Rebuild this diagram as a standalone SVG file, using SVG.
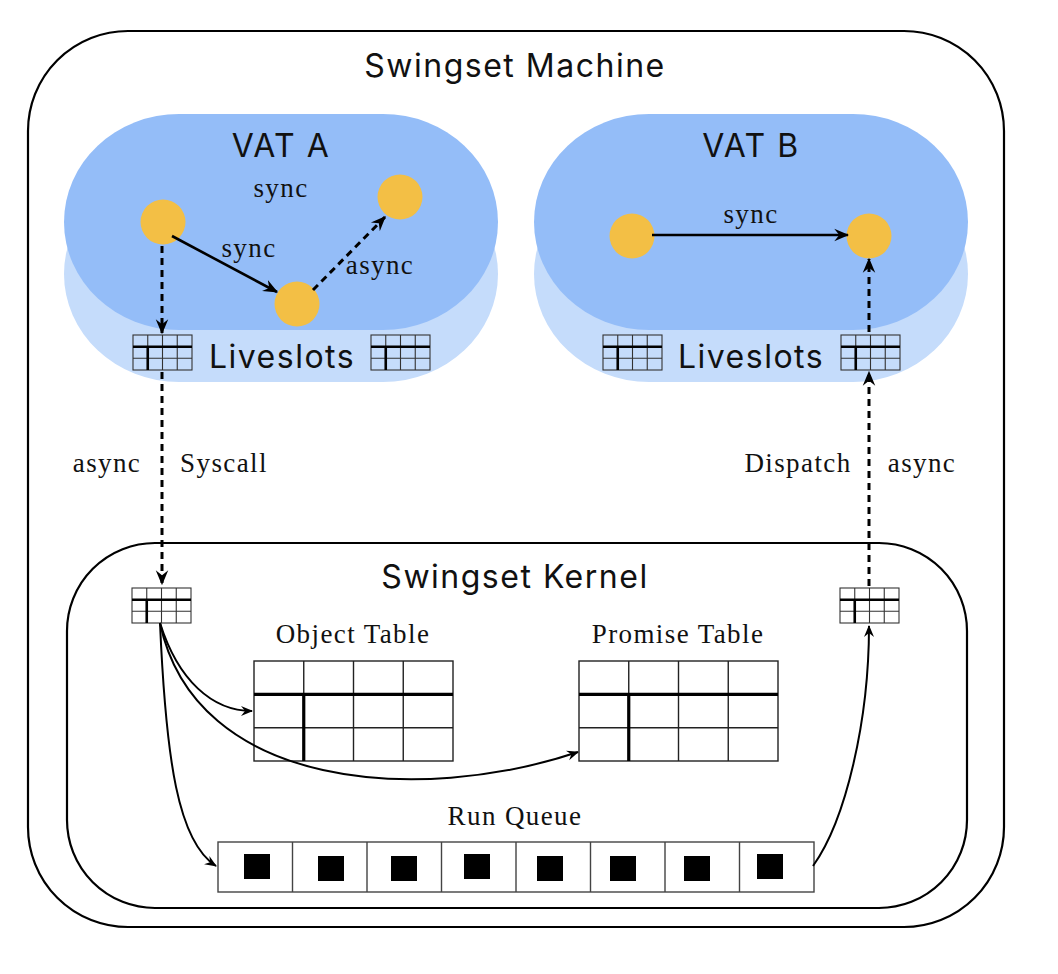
<svg xmlns="http://www.w3.org/2000/svg" width="1058" height="974" viewBox="0 0 1058 974">
<defs>
<style>
.sans{font-family:Inter,"Noto Sans","DejaVu Sans",sans-serif;font-size:32px;fill:#111;text-anchor:middle;letter-spacing:1.5px}
.serif{font-family:"Liberation Serif","Times New Roman",serif;font-size:27px;fill:#111;text-anchor:middle;letter-spacing:1.4px}
.frame{fill:none;stroke:#000;stroke-width:2.2}
.dark{fill:#94bdf8}
.light{fill:#c5dcfb}
.dot{fill:#f3bf45}
.thin{stroke:#333;stroke-width:1.1;fill:none}
.thick{stroke:#000;stroke-width:2.6;fill:none}
.bthin{stroke:#222;stroke-width:1.4;fill:none}
.bthick{stroke:#000;stroke-width:3.2;fill:none}
.solid{stroke:#000;stroke-width:2.6;fill:none}
.dash{stroke:#000;stroke-width:3;fill:none;stroke-dasharray:7 5}
.curve{stroke:#000;stroke-width:2;fill:none}
.sq{fill:#000}
.cell{fill:#fff;stroke:#444;stroke-width:1.4}
</style>
<marker id="ah" viewBox="0 0 12 12" refX="11" refY="6" markerWidth="15" markerHeight="15" orient="auto" markerUnits="userSpaceOnUse"><path d="M0,1 L12,6 L0,11 L4,6 z" fill="#000"/></marker>
<marker id="ahs" viewBox="0 0 12 12" refX="11" refY="6" markerWidth="12" markerHeight="12" orient="auto" markerUnits="userSpaceOnUse"><path d="M0,1 L12,6 L0,11 L4,6 z" fill="#000"/></marker>
<g id="mini">
<rect x="0" y="0" width="59" height="35" fill="none" class="thin"/>
<path class="thin" d="M14.75,0V35M29.5,0V35M44.25,0V35M0,23.3H59"/>
<path class="thick" d="M0,11.7H59M14.75,11.7V35"/>
</g>
<g id="big">
<rect x="0" y="0" width="199" height="100" fill="#fff" class="bthin"/>
<path class="bthin" d="M49.75,0V100M99.5,0V100M149.25,0V100M0,66.7H199"/>
<path class="bthick" d="M0,33.3H199M49.75,33.3V100"/>
</g>
</defs>

<g id="machine">
<rect x="28" y="31" width="976" height="896" rx="100" ry="100" class="frame"/>
<text x="515" y="77" class="sans">Swingset Machine</text>
</g>

<g id="vatA">
<rect x="64" y="166" width="434" height="216" rx="115" ry="108" class="light"/>
<rect x="64" y="114" width="434" height="216" rx="115" ry="108" class="dark"/>
<text x="281" y="157" class="sans">VAT A</text>
<circle cx="163" cy="222" r="22.5" class="dot"/>
<circle cx="297" cy="304" r="22.5" class="dot"/>
<circle cx="400" cy="197" r="22.5" class="dot"/>
<use href="#mini" x="133" y="335"/>
<use href="#mini" x="371" y="335"/>
<text x="282" y="368" class="sans">Liveslots</text>
<text x="281" y="197" class="serif">sync</text>
<text x="249" y="257" class="serif">sync</text>
<text x="380" y="274" class="serif">async</text>
</g>

<g id="vatB">
<rect x="534" y="166" width="434" height="216" rx="115" ry="108" class="light"/>
<rect x="534" y="114" width="434" height="216" rx="115" ry="108" class="dark"/>
<text x="751" y="157" class="sans">VAT B</text>
<circle cx="632" cy="236" r="22.5" class="dot"/>
<circle cx="869" cy="236" r="22.5" class="dot"/>
<use href="#mini" x="603" y="335"/>
<use href="#mini" x="841" y="335"/>
<text x="751" y="368" class="sans">Liveslots</text>
<text x="751" y="223" class="serif">sync</text>
</g>

<g id="kernel">
<rect x="67" y="543" width="900" height="365" rx="88" ry="88" class="frame"/>
<text x="515" y="588" class="sans">Swingset Kernel</text>
<use href="#mini" x="132" y="588"/>
<use href="#mini" x="840" y="588"/>
</g>

<g id="objectTable">
<text x="353" y="643" class="serif">Object Table</text>
<use href="#big" x="254" y="661"/>
</g>

<g id="promiseTable">
<text x="678" y="643" class="serif">Promise Table</text>
<use href="#big" x="579" y="661"/>
</g>

<g id="runQueue">
<text x="515" y="825" class="serif">Run Queue</text>
<rect x="218" y="842" width="596" height="50" class="cell"/>
<path d="M292.5,842V892M367,842V892M441.5,842V892M516,842V892M590.5,842V892M665,842V892M739.5,842V892" stroke="#444" stroke-width="1.4"/>
<rect x="244" y="854" width="26" height="25" class="sq"/>
<rect x="318" y="856" width="26" height="25" class="sq"/>
<rect x="391" y="856" width="26" height="25" class="sq"/>
<rect x="464" y="854" width="26" height="25" class="sq"/>
<rect x="537" y="856" width="26" height="25" class="sq"/>
<rect x="610" y="856" width="26" height="25" class="sq"/>
<rect x="684" y="856" width="26" height="25" class="sq"/>
<rect x="757" y="854" width="26" height="25" class="sq"/>
</g>

<g id="labels">
<text x="107" y="472" class="serif">async</text>
<text x="224" y="472" class="serif">Syscall</text>
<text x="798" y="472" class="serif">Dispatch</text>
<text x="922" y="472" class="serif">async</text>
</g>

<g id="connectors">
<path class="solid" d="M172,236 L277,292" marker-end="url(#ah)"/>
<path class="dash" d="M313,290 L385,217" marker-end="url(#ah)"/>
<path class="dash" d="M162,246 L162,333" marker-end="url(#ah)"/>
<path class="solid" d="M652,235 L848,235" marker-end="url(#ah)"/>
<path class="dash" d="M869,332 L869,259" marker-end="url(#ah)"/>
<path class="dash" d="M162,372 L162,584" marker-end="url(#ah)"/>
<path class="dash" d="M869,586 L869,372" marker-end="url(#ah)"/>
<path class="curve" d="M160,623 C178,680 212,711 252,711" marker-end="url(#ahs)"/>
<path class="curve" d="M160,623 C195,790 420,805 578,752" marker-end="url(#ahs)"/>
<path class="curve" d="M160,623 C166,760 178,842 216,866" marker-end="url(#ahs)"/>
<path class="curve" d="M813,866 C846,820 869,720 869,626" marker-end="url(#ahs)"/>
</g>
</svg>
